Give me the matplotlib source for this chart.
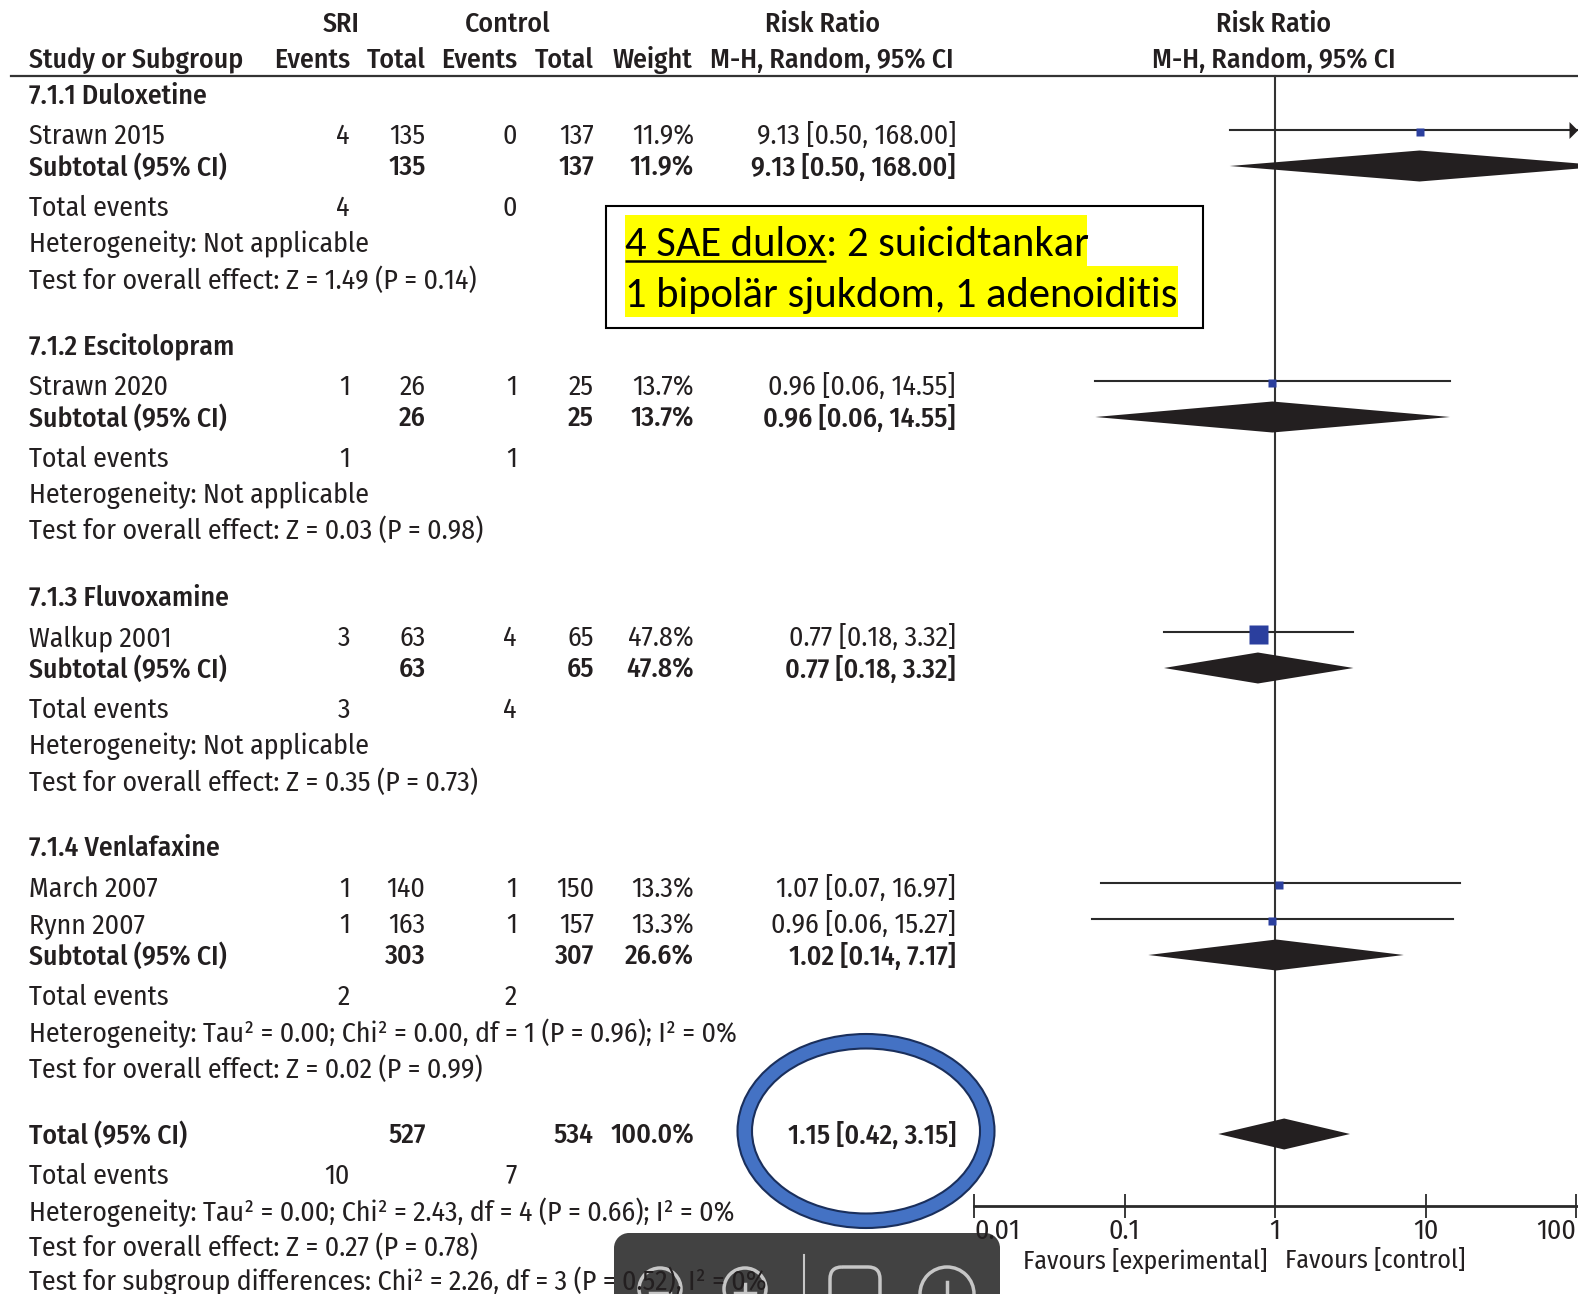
import matplotlib
matplotlib.use("Agg")
from matplotlib import pyplot as plt
from matplotlib.patches import Ellipse, FancyBboxPatch, Rectangle, Polygon, Circle
import logging

logging.getLogger("matplotlib.font_manager").setLevel(logging.ERROR)

W, H = 1578, 1294

# data
groups = ["7.1.1 Duloxetine", "7.1.2 Escitolopram", "7.1.3 Fluvoxamine", "7.1.4 Venlafaxine"]
studies = ["Strawn 2015", "Strawn 2020", "Walkup 2001", "March 2007", "Rynn 2007"]
sri_events = [4, 1, 3, 1, 1]
sri_total = [135, 26, 63, 140, 163]
ctrl_events = [0, 1, 4, 1, 1]
ctrl_total = [137, 25, 65, 150, 157]
weights = [11.9, 13.7, 47.8, 13.3, 13.3]
rr = [9.13, 0.96, 0.77, 1.07, 0.96]
rr_low = [0.50, 0.064, 0.183, 0.07, 0.061]
rr_high = [168.00, 14.55, 3.32, 16.97, 15.27]

sub_sri_total = [135, 26, 63, 303]
sub_ctrl_total = [137, 25, 65, 307]
sub_weights = [11.9, 13.7, 47.8, 26.6]
sub_rr = [9.13, 0.96, 0.77, 1.02]
sub_low = [0.50, 0.064, 0.183, 0.144]
sub_high = [168.00, 14.55, 3.32, 7.17]
sub_sri_events = [4, 1, 3, 2]
sub_ctrl_events = [0, 1, 4, 2]
heterogeneity = ["Heterogeneity: Not applicable", "Heterogeneity: Not applicable", "Heterogeneity: Not applicable",
                 "Heterogeneity: Tau² = 0.00; Chi² = 0.00, df = 1 (P = 0.96); I² = 0%"]
overall = ["Test for overall effect: Z = 1.49 (P = 0.14)", "Test for overall effect: Z = 0.03 (P = 0.98)",
           "Test for overall effect: Z = 0.35 (P = 0.73)", "Test for overall effect: Z = 0.02 (P = 0.99)"]

total_rr, total_low, total_high = 1.15, 0.42, 3.15
total_sri, total_ctrl, total_sri_events, total_ctrl_events = 527, 534, 10, 7
total_notes = ["Heterogeneity: Tau² = 0.00; Chi² = 2.43, df = 4 (P = 0.66); I² = 0%",
               "Test for overall effect: Z = 0.27 (P = 0.78)",
               "Test for subgroup differences: Chi² = 2.26, df = 3 (P = 0.52), I² = 0%"]
ticks = [0.01, 0.1, 1, 10, 100]
tick_labels = ["0.01", "0.1", "1", "10", "100"]

# row positions, pixels from the top
group_y = [94.5, 345, 597, 847]
study_y = [135, 386, 637, 888, 924]
sub_y = [166, 417, 668, 955]
events_y = [207, 458, 709, 996]
het_y = [242.5, 494, 745, 1032]
over_y = [279, 529, 781, 1068]
total_y = 1134
note_y = [1211, 1246, 1280]
square_px = [8, 8, 19, 8, 8]

# column right edges
col_sri_e, col_sri_t, col_ctl_e, col_ctl_t, col_w, col_ci = 350, 425.5, 517, 594, 694, 956
left = 29

INK = "#231f20"
FS = 20
plt.rcParams["font.family"] = ["Fira Sans Condensed", "PT Sans Narrow", "Asap Condensed", "Liberation Sans", "DejaVu Sans"]
plt.rcParams["text.color"] = INK

fig = plt.figure(figsize=(W / 100, H / 100), dpi=100)
bg = fig.add_axes([0, 0, 1, 1])
bg.set_xlim(0, W)
bg.set_ylim(H, 0)
bg.axis("off")


def txt(x, y, s, bold=False, ha="left", size=FS):
    bg.text(x, y + 1.5, s, ha=ha, va="center", fontsize=size, fontweight="medium" if bold else "normal", zorder=5)


def ci(a, b, c):
    return "%.2f [%.2f, %.2f]" % (a, b, c)


# header
txt(341, 23, "SRI", True, "center")
txt(508, 23, "Control", True, "center")
txt(823, 23, "Risk Ratio", True, "center")
txt(1274, 23, "Risk Ratio", True, "center")
txt(left, 59, "Study or Subgroup", True)
txt(col_sri_e, 59, "Events", True, "right")
txt(col_sri_t, 59, "Total", True, "right")
txt(col_ctl_e, 59, "Events", True, "right")
txt(col_ctl_t, 59, "Total", True, "right")
txt(692, 59, "Weight", True, "right")
txt(954, 59, "M-H, Random, 95% CI", True, "right")
txt(1274, 59, "M-H, Random, 95% CI", True, "center")
bg.plot([11, W], [76, 76], color="#333333", lw=1.6, zorder=3)

# studies
for i, s in enumerate(studies):
    y = study_y[i]
    txt(left, y, s)
    txt(col_sri_e, y, str(sri_events[i]), ha="right")
    txt(col_sri_t, y, str(sri_total[i]), ha="right")
    txt(col_ctl_e, y, str(ctrl_events[i]), ha="right")
    txt(col_ctl_t, y, str(ctrl_total[i]), ha="right")
    txt(col_w, y, "%.1f%%" % weights[i], ha="right")
    txt(col_ci, y, ci(rr[i], rr_low[i], rr_high[i]), ha="right")

# subgroups
for i, g in enumerate(groups):
    txt(left, group_y[i], g, True)
    y = sub_y[i]
    txt(left, y, "Subtotal (95% CI)", True)
    txt(col_sri_t, y, str(sub_sri_total[i]), True, "right")
    txt(col_ctl_t, y, str(sub_ctrl_total[i]), True, "right")
    txt(col_w, y, "%.1f%%" % sub_weights[i], True, "right")
    txt(col_ci, y, ci(sub_rr[i], sub_low[i], sub_high[i]), True, "right")
    txt(left, events_y[i], "Total events")
    txt(col_sri_e, events_y[i], str(sub_sri_events[i]), ha="right")
    txt(col_ctl_e, events_y[i], str(sub_ctrl_events[i]), ha="right")
    txt(left, het_y[i], heterogeneity[i])
    txt(left, over_y[i], overall[i])

# total
txt(left, total_y, "Total (95% CI)", True)
txt(col_sri_t, total_y, str(total_sri), True, "right")
txt(col_ctl_t, total_y, str(total_ctrl), True, "right")
txt(col_w, total_y, "100.0%", True, "right")
txt(col_ci, total_y, ci(total_rr, total_low, total_high), True, "right")
txt(left, 1175, "Total events")
txt(col_sri_e, 1175, str(total_sri_events), ha="right")
txt(col_ctl_e, 1175, str(total_ctrl_events), ha="right")
for y, s in zip(note_y, total_notes):
    txt(left, y, s)

# ring round the total
bg.add_patch(Ellipse((866, 1131), 257, 194, fc="#4472c4", ec="#1a2f5c", lw=1.5, zorder=2))
bg.add_patch(Ellipse((866, 1131), 228, 165, fc="white", ec="#1a2f5c", lw=1.5, zorder=2))

# note box
bg.add_patch(Rectangle((606, 206), 597, 122, fc="white", ec="black", lw=1.5, zorder=2))
bg.add_patch(Rectangle((625, 215), 462, 51, fc="#ffff00", ec="none", zorder=3))
bg.add_patch(Rectangle((625, 266), 553, 51, fc="#ffff00", ec="none", zorder=3))
NOTE = dict(fontsize=30.7, color="black", family=["Carlito", "Lato", "DejaVu Sans"], va="center", zorder=4)
t1 = bg.text(625, 244, "4 SAE dulox", **NOTE)
fig.canvas.draw()
box = t1.get_window_extent()
bg.text(box.x1, 244, ": 2 suicidtankar", **NOTE)
bg.plot([625, box.x1], [261, 261], color="black", lw=1.8, zorder=4, solid_capstyle="butt")
bg.text(625, 295, "1 bipolär sjukdom, 1 adenoiditis", **NOTE)

# toolbar of the viewer that is over the picture
bg.add_patch(Rectangle((614, 1248), 386, 60, fc="#424242", ec="none", zorder=1))
bg.add_patch(Rectangle((629, 1233), 356, 20, fc="#424242", ec="none", zorder=1))
for cx, cy in [(629, 1248), (985, 1248)]:
    bg.add_patch(Circle((cx, cy), 15, fc="#424242", ec="none", zorder=1))
ICON = "#c6c6c6"
bg.add_patch(Circle((660, 1289), 21, fc="none", ec=ICON, lw=2.5, zorder=2))
bg.add_patch(Circle((745, 1289), 21, fc="none", ec=ICON, lw=2.5, zorder=2))
bg.plot([650, 670], [1293, 1293], color=ICON, lw=2.5, zorder=2)
bg.plot([735, 755], [1293, 1293], color=ICON, lw=2.5, zorder=2)
bg.plot([745, 745], [1284, 1294], color=ICON, lw=2.5, zorder=2)
bg.plot([804, 804], [1255, 1294], color=ICON, lw=1.5, zorder=2)
bg.add_patch(FancyBboxPatch((838, 1275), 34, 60, boxstyle="round,pad=8,rounding_size=12", fc="none", ec=ICON, lw=2.5,
                            zorder=2))
bg.add_patch(Circle((947, 1294), 27, fc="none", ec=ICON, lw=2.5, zorder=2))
bg.plot([947, 947], [1282, 1294], color=ICON, lw=2.5, zorder=2)

# forest plot, log axis with 150.5 px per decade
x0, x1 = 974, W
ax = fig.add_axes([x0 / W, 0, (x1 - x0) / W, 1])
ax.patch.set_alpha(0)
ax.set_xscale("log")
ax.set_xlim(0.01, 10 ** (-2 + (x1 - x0) / 150.5))
ax.set_ylim(H, 0)
for side in ["left", "right", "top"]:
    ax.spines[side].set_visible(False)
ax.spines["bottom"].set_position(("data", 1206))
ax.spines["bottom"].set_linewidth(2)
ax.spines["bottom"].set_color("#2a2a2a")
ax.yaxis.set_visible(False)
ax.set_xticks(ticks)
ax.set_xticklabels(tick_labels, fontsize=FS)
ax.minorticks_off()
ax.tick_params(axis="x", which="major", direction="inout", length=17, width=1.3, color="#2a2a2a", pad=0, labelcolor=INK)
ax.get_xticklabels()[0].set_ha("left")
ax.get_xticklabels()[-1].set_ha("right")
ax.plot([1, 1], [76, 1206], color="#333333", lw=1.5, zorder=2)

for i in range(len(studies)):
    y = study_y[i] - 5
    ax.plot([rr_low[i], rr_high[i]], [y, y], color="#2a2a2a", lw=1.5, zorder=3)
    ax.plot([rr[i]], [y + 2], marker="s", ms=square_px[i] * 0.72, color="#2b3f9e", mec="none", zorder=4)
    if rr_high[i] > 100:
        ax.plot([90], [y], marker=[(0, -1), (1, 0), (0, 1)], ms=12.2, color="#231f20", mec="none", zorder=4)


def diamond(r, lo, hi, y):
    ax.add_patch(Polygon([(lo, y), (r, y - 15.5), (hi, y), (r, y + 15.5)], closed=True, fc="#231f20", ec="none", zorder=3))


for i in range(len(groups)):
    diamond(sub_rr[i], sub_low[i], sub_high[i], sub_y[i])
diamond(total_rr, total_low, total_high, total_y)

txt(1268, 1259, "Favours [experimental]", ha="right", size=18.6)
txt(1285, 1259, "Favours [control]", size=18.6)

fig.savefig("out.png", dpi=100)
